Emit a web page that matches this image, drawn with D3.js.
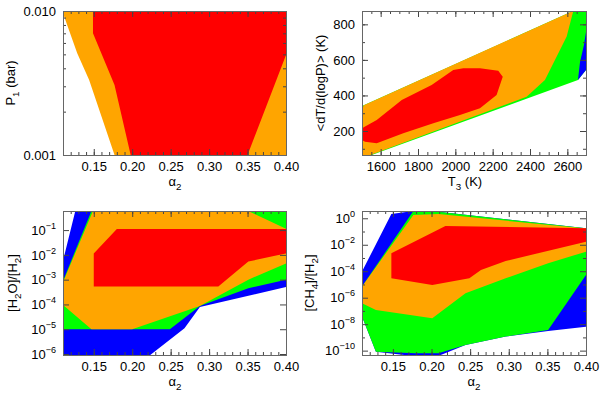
<!DOCTYPE html>
<html>
<head>
<meta charset="utf-8">
<script src="https://cdn.jsdelivr.net/npm/d3@7"></script>
<style>
  body { margin: 0; background: #fff; }
  svg { display: block; font-family: 'Liberation Sans', Arial, sans-serif; }
  .axis { color: #444; }
  .axis text { font-size: 13px; fill: #000; }
  .axis-label { font-size: 13px; fill: #000; }
</style>
</head>
<body>
<svg id="chart" width="600" height="400"></svg>
<script>
const BLUE = '#0000ff', GREEN = '#00ff00', ORANGE = '#ffa500', RED = '#ff0000'

const alphaTicks = [0.15, 0.20, 0.25, 0.30, 0.35, 0.40]
const p1Ticks = [0.001, 0.010]
const t3Ticks = [1600, 1800, 2000, 2200, 2400, 2600]
const gradTicks = [200, 400, 600, 800]
const h2oTicks = [-6, -5, -4, -3, -2, -1]
const ch4Ticks = [-10, -8, -6, -4, -2, 0]

// P1 (bar) vs alpha2
const p1Orange = [[0.109, 0.010], [0.40, 0.010], [0.40, 0.001], [0.177, 0.001], [0.144, 0.00332], [0.1285, 0.00508]]
const p1Red = [[0.149, 0.010], [0.40, 0.010], [0.40, 0.00494], [0.35, 0.001], [0.198, 0.001], [0.177, 0.00306], [0.149, 0.0070]]

// <dT/d(logP)> (K) vs T3 (K)
const gradGreen = [[1500, 340], [2630, 875], [2700, 875], [2700, 543], [2657, 487], [1552, 65], [1500, 65]]
const gradBlue = [[2700, 757], [2700, 543], [2657, 487], [2668, 588], [2689, 684]]
const gradOrange = [[1500, 322], [1510, 345], [2630, 875], [2632, 875], [2596, 730], [2480, 487], [2382, 393], [1560, 70],
  [1545, 65], [1500, 65]]
const gradRed = [[1500, 150], [1516, 140], [1579, 131], [1721, 187], [1882, 243], [2025, 290], [2132, 328], [2221, 402],
  [2254, 505], [2230, 539], [2132, 553], [2043, 553], [1989, 543], [1873, 459], [1713, 374], [1579, 262], [1507, 219], [1500, 210]]

// log10([H2O]/[H2]) vs alpha2
const h2oBlue = [[0.126, -0.23], [0.40, -0.23], [0.40, -3.3], [0.288, -4.1], [0.268, -4.96], [0.221, -6.1], [0.11, -6.1], [0.11, -2.24]]
const h2oGreen = [[0.147, -0.23], [0.40, -0.23], [0.40, -3.0], [0.351, -3.35], [0.288, -4.06], [0.249, -5.0], [0.11, -5.0], [0.11, -3.05]]
const h2oOrange = [[0.149, -0.23], [0.351, -0.23], [0.40, -0.95], [0.40, -2.35], [0.351, -3.0], [0.288, -4.06], [0.20, -5.0],
  [0.147, -5.0], [0.11, -4.02], [0.11, -3.1]]
const h2oRed = [[0.15, -1.94], [0.18, -0.96], [0.40, -0.96], [0.40, -1.94], [0.351, -2.27], [0.312, -3.28], [0.15, -3.28]]

// log10([CH4]/[H2]) vs alpha2
const ch4Blue = [[0.11, -4.03], [0.148, 0.32], [0.1765, 0.55], [0.209, 0.5], [0.40, -0.76], [0.40, -8.19], [0.351, -8.51],
  [0.296, -8.94], [0.244, -9.57], [0.209, -10.4], [0.175, -10.4], [0.128, -10.08], [0.11, -7.43]]
const ch4Green = [[0.11, -5.16], [0.1765, 0.55], [0.209, 0.5], [0.40, -0.76], [0.40, -4.28], [0.351, -8.44], [0.296, -8.94],
  [0.244, -9.57], [0.209, -10.2], [0.179, -10.2], [0.128, -10.08], [0.11, -7.43]]
const ch4Orange = [[0.11, -5.16], [0.1765, 0.25], [0.209, 0.32], [0.40, -0.78], [0.40, -2.52], [0.351, -3.40], [0.296, -4.53],
  [0.244, -5.66], [0.201, -7.55], [0.128, -6.93], [0.11, -6.42]]
const ch4Red = [[0.148, -2.65], [0.218, -0.58], [0.40, -0.76], [0.40, -1.77], [0.296, -3.23], [0.264, -3.91], [0.249, -4.53],
  [0.201, -5.04], [0.148, -4.53]]

const svg = d3.select('#chart')
const pow10 = (v) => Math.pow(10, v)

function richText(sel, parts) {
  parts.forEach((p) => {
    const t = sel.append('tspan').text(p[0])
    if (p[1] === 'sub') t.attr('dy', 4).attr('font-size', '75%')
    if (p[1] === 'sup') t.attr('dy', -6).attr('font-size', '70%')
    if (p[2]) t.attr('dy', p[2])
  })
}

function addAxis(g, gen, transform, values, size, format) {
  const a = g.append('g')
    .attr('class', 'axis')
    .attr('transform', transform)
    .call(gen.tickValues(values).tickSize(-size).tickSizeOuter(0).tickPadding(format ? 7 : 0).tickFormat(format || ''))
  a.select('.domain').remove()
  return a
}

function drawPanel(p) {
  const g = svg.append('g').attr('transform', `translate(${p.left}, ${p.top})`)
  const x = p.x.range([0, p.width])
  const y = p.y.range([p.height, 0])

  g.append('clipPath')
    .attr('id', p.id + '-clip')
    .append('rect')
    .attr('width', p.width)
    .attr('height', p.height)

  const line = d3.line()
    .x((d) => x(d[0]))
    .y((d) => y(p.yOf(d[1])))

  g.append('g')
    .attr('clip-path', `url(#${p.id}-clip)`)
    .selectAll('path')
    .data(p.layers)
    .enter()
    .append('path')
    .attr('d', (d) => line(d.points) + 'Z')
    .attr('fill', (d) => d.color)

  // IDL style: ticks inward on all four sides, labels bottom and left only
  addAxis(g, d3.axisBottom(x), `translate(0, ${p.height})`, p.xMinor, 3)
  addAxis(g, d3.axisTop(x), 'translate(0, 0)', p.xMinor, 3)
  addAxis(g, d3.axisBottom(x), `translate(0, ${p.height})`, p.xTicks, 6, p.xFormat)
  addAxis(g, d3.axisTop(x), 'translate(0, 0)', p.xTicks, 6)

  addAxis(g, d3.axisLeft(y), 'translate(0, 0)', p.yMinor, 3)
  addAxis(g, d3.axisRight(y), `translate(${p.width}, 0)`, p.yMinor, 3)
  const yAxis = addAxis(g, d3.axisLeft(y), 'translate(0, 0)', p.yTicks, 6, p.yFormat || ((d) => ''))
  addAxis(g, d3.axisRight(y), `translate(${p.width}, 0)`, p.yTicks, 6)

  if (p.yPower) {
    yAxis.selectAll('.tick text').each(function(d) {
      const t = d3.select(this).text(null)
      const e = Math.round(Math.log10(d))
      richText(t, [['10'], [String(e).replace('-', '\u2212'), 'sup']])
    })
  }

  g.append('rect')
    .attr('x', 0.5)
    .attr('y', 0.5)
    .attr('width', p.width)
    .attr('height', p.height)
    .attr('fill', 'none')
    .attr('stroke', '#666')

  const xl = g.append('text')
    .attr('class', 'axis-label')
    .attr('x', p.xLabelX)
    .attr('y', p.height + 31)
    .attr('text-anchor', 'middle')
  richText(xl, p.xLabel)

  const yl = g.append('text')
    .attr('class', 'axis-label')
    .attr('transform', `translate(${p.yLabelX}, ${p.height / 2}) rotate(-90)`)
    .attr('text-anchor', 'middle')
  richText(yl, p.yLabel)
}

const alphaMinor = d3.range(0.11, 0.4001, 0.01)
const alphaLabel = [['\u03b1'], ['2', 'sub']]

drawPanel({
  id: 'p1', left: 63, top: 11, width: 223, height: 144,
  x: d3.scaleLinear().domain([0.11, 0.40]),
  y: d3.scaleLog().domain([0.001, 0.010]),
  yOf: (v) => v,
  xTicks: alphaTicks, xMinor: alphaMinor, xFormat: d3.format('.2f'),
  yTicks: p1Ticks, yMinor: d3.range(0.002, 0.0095, 0.001), yFormat: d3.format('.3f'),
  xLabel: alphaLabel, xLabelX: 112,
  yLabel: [['P'], ['1', 'sub'], [' (bar)', null, -4]], yLabelX: -48,
  layers: [{color: ORANGE, points: p1Orange}, {color: RED, points: p1Red}]
})

drawPanel({
  id: 'p2', left: 362, top: 11, width: 224, height: 144,
  x: d3.scaleLinear().domain([1500, 2700]),
  y: d3.scaleLinear().domain([65, 875]),
  yOf: (v) => v,
  xTicks: t3Ticks, xMinor: d3.range(1500, 2701, 50), xFormat: d3.format('d'),
  yTicks: gradTicks, yMinor: d3.range(100, 875, 100), yFormat: d3.format('d'),
  xLabel: [['T'], ['3', 'sub'], [' (K)', null, -4]], xLabelX: 103,
  yLabel: [['<dT/d(logP)> (K)']], yLabelX: -37,
  layers: [{color: GREEN, points: gradGreen}, {color: BLUE, points: gradBlue},
    {color: ORANGE, points: gradOrange}, {color: RED, points: gradRed}]
})

drawPanel({
  id: 'p3', left: 63, top: 211, width: 223, height: 144,
  x: d3.scaleLinear().domain([0.11, 0.40]),
  y: d3.scaleLog().domain([pow10(-6.04), pow10(-0.23)]),
  yOf: pow10, yPower: true,
  xTicks: alphaTicks, xMinor: alphaMinor, xFormat: d3.format('.2f'),
  yTicks: h2oTicks.map(pow10), yMinor: [],
  xLabel: alphaLabel, xLabelX: 112,
  yLabel: [['[H'], ['2', 'sub'], ['O]/[H', null, -4], ['2', 'sub'], [']', null, -4]], yLabelX: -46,
  layers: [{color: BLUE, points: h2oBlue}, {color: GREEN, points: h2oGreen},
    {color: ORANGE, points: h2oOrange}, {color: RED, points: h2oRed}]
})

drawPanel({
  id: 'p4', left: 362, top: 211, width: 224, height: 144,
  x: d3.scaleLinear().domain([0.11, 0.40]),
  y: d3.scaleLog().domain([pow10(-10.33), pow10(0.55)]),
  yOf: pow10, yPower: true,
  xTicks: alphaTicks, xMinor: alphaMinor, xFormat: d3.format('.2f'),
  yTicks: ch4Ticks.map(pow10), yMinor: [-9, -7, -5, -3, -1].map(pow10),
  xLabel: alphaLabel, xLabelX: 112,
  yLabel: [['[CH'], ['4', 'sub'], [']/[H', null, -4], ['2', 'sub'], [']', null, -4]], yLabelX: -48,
  layers: [{color: BLUE, points: ch4Blue}, {color: GREEN, points: ch4Green},
    {color: ORANGE, points: ch4Orange}, {color: RED, points: ch4Red}]
})
</script>
</body>
</html>
